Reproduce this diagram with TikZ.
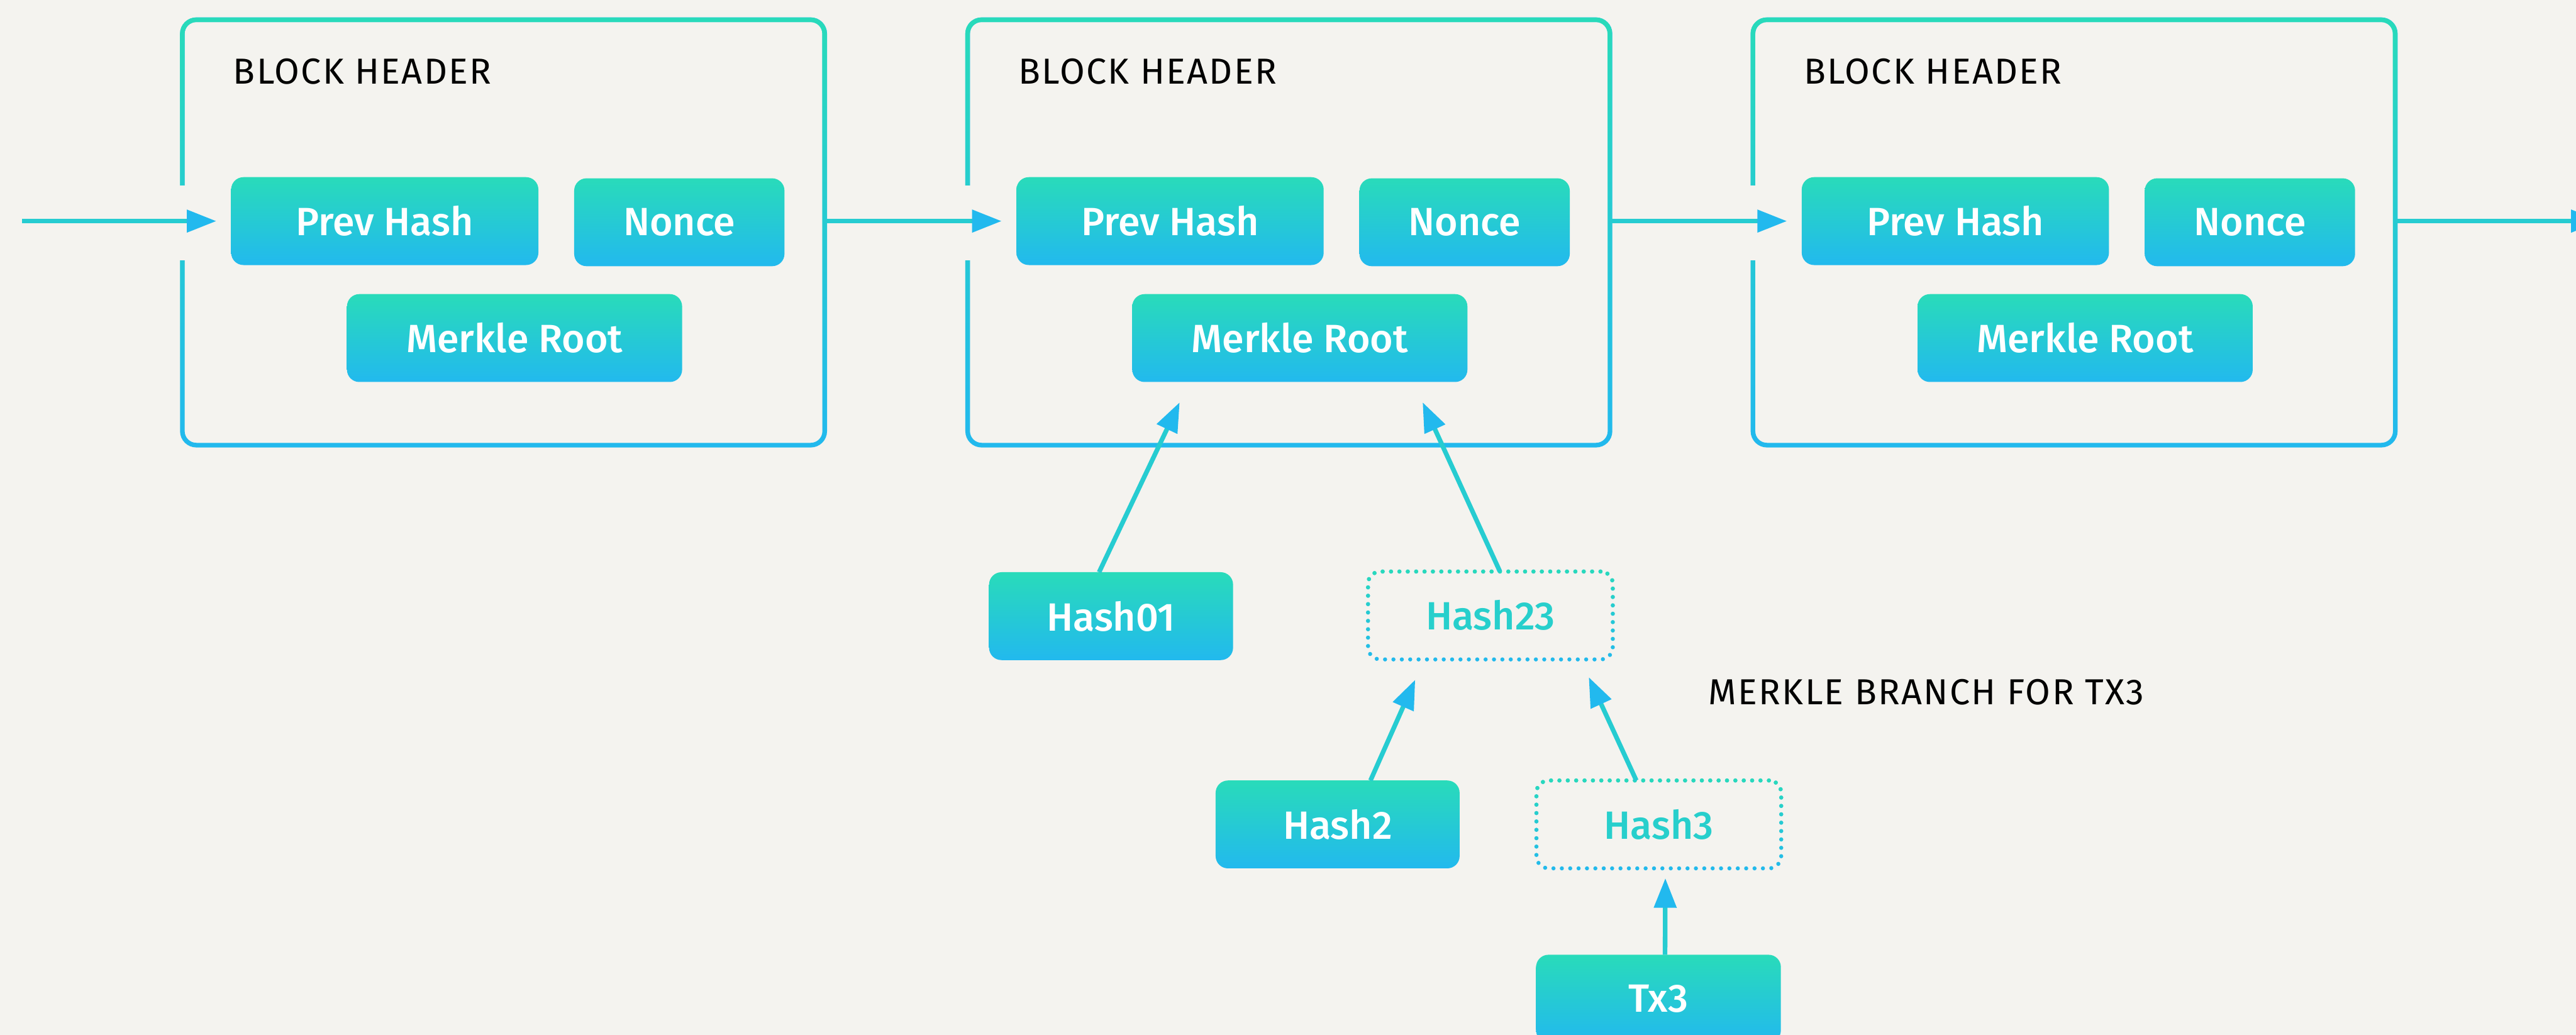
\documentclass[tikz,border=0pt]{standalone}
\usepackage{fontspec}
\setmainfont{Fira Sans}
\newfontfamily\labelfont{Fira Sans}[UprightFont=* Medium]
\newfontfamily\capsfont{Fira Sans}[LetterSpace=4]
\usepackage{tikz}
\usetikzlibrary{calc}
\usetikzlibrary{positioning,arrows.meta,fadings}
\definecolor{hteal}{RGB}{41,219,186}
\definecolor{hblue}{RGB}{34,185,238}
\definecolor{paper}{RGB}{244,243,239}

\tikzset{
        header/.style={inner sep=0pt, outer sep=0pt, anchor=base west, text=black,
                       font=\capsfont\fontsize{22}{24}\selectfont},
        field/.style={rounded corners=7.5pt, top color=hteal, bottom color=hblue,
                      minimum height=53.5pt, inner sep=0pt, outer sep=0pt, text=white,
                      font=\labelfont\fontsize{24}{26}\selectfont},
        ghost/.style={draw=hblue, line width=2.5pt, dash pattern=on 0pt off 5.1pt, line cap=round,
                      rounded corners=7.5pt, minimum width=149pt, minimum height=53.5pt,
                      inner sep=0pt, outer sep=0pt, text=hteal!65!hblue,
                      font=\labelfont\fontsize{24}{26}\selectfont,
                      postaction={draw=hteal, path fading=south}},
        blockbox/.style={draw=hblue, line width=2.8pt, rounded corners=8.5pt,
                         minimum width=391pt, minimum height=259pt, inner sep=0pt, outer sep=0pt,
                         postaction={draw=hteal, path fading=south}},
        link/.style={draw=hteal!55!hblue, line width=2.8pt,
                     -{Triangle[length=18pt, width=13.3pt, color=hblue]}}
}

\begin{document}
\begin{tikzpicture}[x=1pt, y=-1pt]
        \clip (0,0) rectangle (1568,630);
        \fill[paper] (0,0) rectangle (1568,630);

        \node[blockbox] (blk1) at (306.5, 141.5) {};
        \node[blockbox] (blk2) at (784.5, 141.5) {};
        \node[blockbox] (blk3) at (1262.5, 141.5) {};
        \fill[paper] ($(blk1.west)+(-3,-28.7)$) rectangle ($(blk1.west)+(3,17)$);
        \fill[paper] ($(blk2.west)+(-3,-28.7)$) rectangle ($(blk2.west)+(3,17)$);
        \fill[paper] ($(blk3.west)+(-3,-28.7)$) rectangle ($(blk3.west)+(3,17)$);

        \node[header] (head1) at (142, 51) {BLOCK HEADER};
        \node[field, minimum width=187pt] (prev1) at (234.2, 134.6) {Prev Hash};
        \node[field, minimum width=128pt] (nonce1) at (413.5, 135.3) {Nonce};
        \node[field, minimum width=204pt] (root1) at (313.2, 205.8) {Merkle Root};

        \node[header] (head2) at (620, 51) {BLOCK HEADER};
        \node[field, minimum width=187pt] (prev2) at (712.2, 134.6) {Prev Hash};
        \node[field, minimum width=128pt] (nonce2) at (891.5, 135.3) {Nonce};
        \node[field, minimum width=204pt] (root2) at (791.2, 205.8) {Merkle Root};

        \node[header] (head3) at (1098, 51) {BLOCK HEADER};
        \node[field, minimum width=187pt] (prev3) at (1190.2, 134.6) {Prev Hash};
        \node[field, minimum width=128pt] (nonce3) at (1369.5, 135.3) {Nonce};
        \node[field, minimum width=204pt] (root3) at (1269.2, 205.8) {Merkle Root};

        \node[field, minimum width=148.5pt] (hash01) at (676.3, 375.1) {Hash01};
        \node[ghost] (hash23) at (907.2, 374.7) {Hash23};
        \node[field, minimum width=148.5pt] (hash2) at (814.2, 501.9) {Hash2};
        \node[ghost] (hash3) at (1009.7, 501.9) {Hash3};
        \node[field, minimum width=149pt] (tx3) at (1009.5, 608) {Tx3};
        \node[header] (branch) at (1040, 428.9) {MERKLE BRANCH FOR TX3};

        \coordinate (chainin) at (13.5, 134.6);
        \coordinate (chainout) at (1592, 134.6);
        \draw[link, shorten >=9pt] (chainin) -- (prev1.west);
        \draw[link, shorten >=9pt] (blk1.east |- prev2.west) -- (prev2.west);
        \draw[link, shorten >=9pt] (blk2.east |- prev3.west) -- (prev3.west);
        \draw[link, shorten >=9pt] (blk3.east |- prev3.west) -- (chainout);

        \draw[link, shorten >=13.7pt] ([xshift=-7.3pt]hash01.north) -- ([xshift=-67.3pt]root2.south);
        \draw[link, shorten >=13.6pt] ([xshift=5.8pt]hash23.north) -- ([xshift=69.1pt]root2.south);
        \draw[link, shorten >=13.5pt] ([xshift=20pt]hash2.north) -- ([xshift=-40.3pt]hash23.south);
        \draw[link, shorten >=11.9pt] ([xshift=-13.7pt]hash3.north) -- ([xshift=54.9pt]hash23.south);
        \draw[link, shorten >=6pt] ([xshift=4pt]tx3.north) -- ([xshift=4pt]hash3.south);
\end{tikzpicture}
\end{document}
